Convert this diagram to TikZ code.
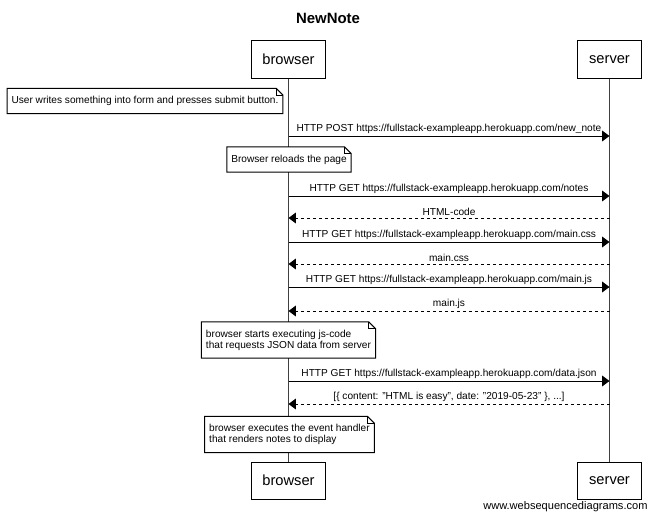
\documentclass[tikz,border=0pt]{standalone}
\usepackage{fontspec}
\setmainfont{Liberation Sans}
\usetikzlibrary{arrows.meta}

% outline of a note with a folded corner
\newcommand{\dogear}[1]{%
	\draw ([xshift=-5pt]#1.north east) -- (#1.north west) -- (#1.south west) -- (#1.south east) -- ([yshift=-5pt]#1.north east) -- cycle;
	\draw ([xshift=-5pt]#1.north east) |- ([yshift=-5pt]#1.north east);
}

\begin{document}
\begin{tikzpicture}[x=0.75pt, y=-0.75pt, line width=0.75pt,
	actor/.style={draw, fill=white, font=\fontsize{11}{13}\selectfont, minimum height=27.75pt, inner xsep=8.5pt},
	note/.style={fill=white, align=left, font=\fontsize{7.6}{8.3}\selectfont, inner xsep=3pt, inner ysep=5.5pt},
	life/.style={black!75},
	msg/.style={-{Triangle[length=5.5pt, width=8pt]}},
	reply/.style={msg, dash pattern=on 2.25pt off 2.25pt},
	lbl/.style={above, inner sep=1.5pt, font=\fontsize{7.6}{8.3}\selectfont}]
	\useasboundingbox (0,0) rectangle (655,517);

	\node[font=\bfseries\fontsize{11.2}{13}\selectfont] (title) at (328,18) {NewNote};

	\node[actor] (btop) at (288.5,59.5) {browser};
	\node[actor] (stop) at (609.5,59.5) {server};
	\node[actor] (bbot) at (288.5,480.5) {browser};
	\node[actor] (sbot) at (609.5,480.5) {server};
	\draw[life] (btop) -- (bbot);
	\draw[life] (stop) -- (sbot);

	\node[note] (n1) at (145,101) {User writes something into form and presses submit button.};
	\dogear{n1}

	\draw[msg] (btop |- 0,136) -- node[lbl] {HTTP POST https://fullstack-exampleapp.herokuapp.com/new\_note} (stop |- 0,136);

	\node[note] (n2) at (289,159.5) {Browser reloads the page};
	\dogear{n2}

	\draw[msg] (btop |- 0,196) -- node[lbl] {HTTP GET https://fullstack-exampleapp.herokuapp.com/notes} (stop |- 0,196);
	\draw[reply] (stop |- 0,218) -- node[lbl] {HTML-code} (btop |- 0,218);
	\draw[msg] (btop |- 0,242) -- node[lbl] {HTTP GET https://fullstack-exampleapp.herokuapp.com/main.css} (stop |- 0,242);
	\draw[reply] (stop |- 0,264) -- node[lbl] {main.css} (btop |- 0,264);
	\draw[msg] (btop |- 0,287) -- node[lbl] {HTTP GET https://fullstack-exampleapp.herokuapp.com/main.js} (stop |- 0,287);
	\draw[reply] (stop |- 0,311) -- node[lbl] {main.js} (btop |- 0,311);

	\node[note] (n3) at (288.5,340) {browser starts executing js-code\\that requests JSON data from server};
	\dogear{n3}

	\draw[msg] (btop |- 0,381) -- node[lbl] {HTTP GET https://fullstack-exampleapp.herokuapp.com/data.json} (stop |- 0,381);
	\draw[reply] (stop |- 0,404) -- node[lbl] {[\{ content: "HTML is easy", date: "2019-05-23" \}, ...]} (btop |- 0,404);

	\node[note] (n4) at (289.5,434.5) {browser executes the event handler\\that renders notes to display};
	\dogear{n4}

	\node[anchor=east, inner sep=0pt, font=\fontsize{8.3}{10}\selectfont] (wsd) at (648,507) {www.websequencediagrams.com};
\end{tikzpicture}
\end{document}
